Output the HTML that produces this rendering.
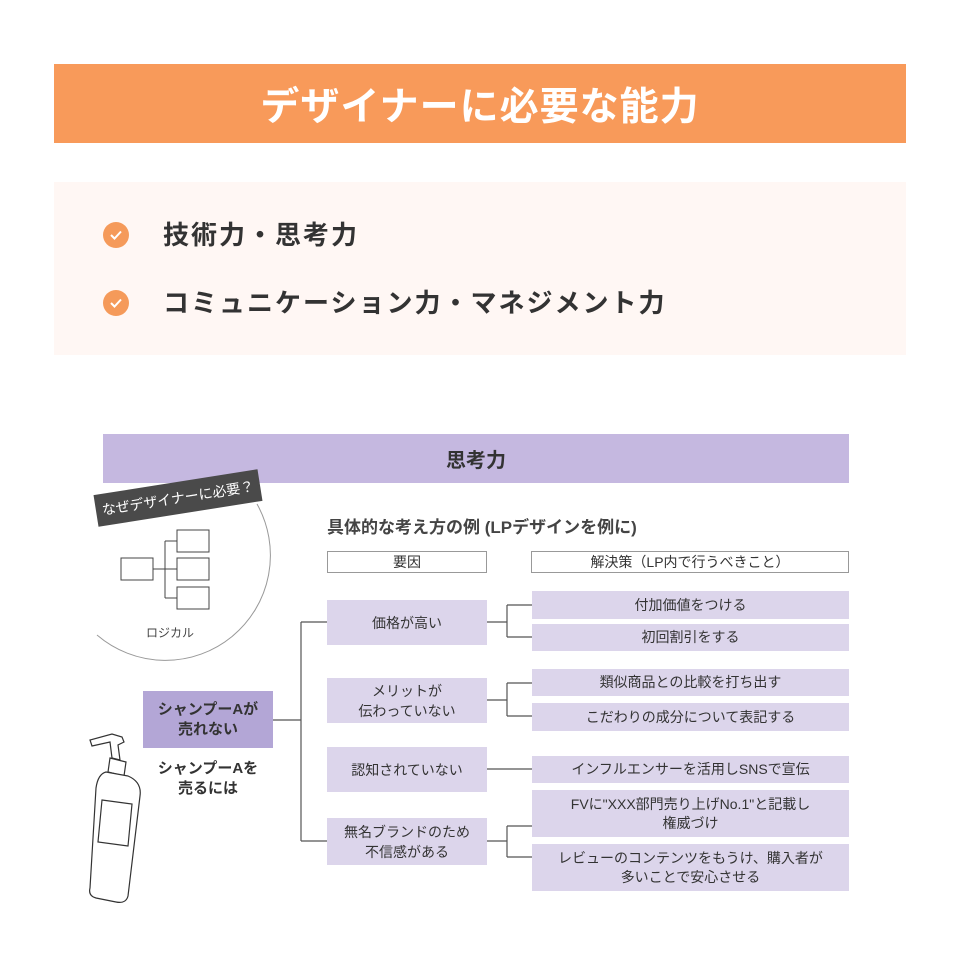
<!DOCTYPE html>
<html><head><meta charset="utf-8"><style>
*{margin:0;padding:0;box-sizing:border-box}
body{width:960px;height:960px;background:#fff;position:relative;overflow:hidden;font-family:"Liberation Sans","Noto Sans CJK JP",sans-serif;color:#333}
.a{position:absolute}
.c{display:flex;align-items:center;justify-content:center;text-align:center}
.cause{background:#dcd5eb;font-size:14px;line-height:20px;color:#333}
.sol{background:#dcd5eb;font-size:14px;line-height:19px;color:#333}
.hd{border:1px solid #999;background:#fff;font-size:14px}
.chk{width:26px;height:26px;border-radius:50%;background:#f59a5a}
</style></head><body>
<div class="a c" style="left:54px;top:64px;width:852px;height:79px;background:#f89a5a;color:#fff;font-size:39px;font-weight:bold;letter-spacing:1px">デザイナーに必要な能力</div>
<div class="a" style="left:54px;top:182px;width:852px;height:173px;background:#fff7f4"></div>
<div class="a chk c" style="left:103px;top:222px"><svg width="12" height="10"><path d="M1 5 L4.5 8.5 L11 1.5" stroke="#fff" stroke-width="2" fill="none"/></svg></div>
<div class="a chk c" style="left:103px;top:290px"><svg width="12" height="10"><path d="M1 5 L4.5 8.5 L11 1.5" stroke="#fff" stroke-width="2" fill="none"/></svg></div>
<div class="a" style="left:163px;top:218px;font-size:26px;font-weight:bold;letter-spacing:2px;line-height:34px">技術力・思考力</div>
<div class="a" style="left:163px;top:286px;font-size:26px;font-weight:bold;letter-spacing:2px;line-height:34px">コミュニケーション力・マネジメント力</div>

<div class="a c" style="left:103px;top:434px;width:746px;height:49px;background:#c5b8e0;font-size:20px;font-weight:bold">思考力</div>

<svg class="a" style="left:0;top:0" width="960" height="960">
<path d="M257 504 A105 105 0 0 1 97 635" fill="none" stroke="#999" stroke-width="1"/>
<g fill="#fff" stroke="#444" stroke-width="1">
<rect x="121" y="558" width="32" height="22"/>
<rect x="177" y="530" width="32" height="22"/>
<rect x="177" y="558" width="32" height="22"/>
<rect x="177" y="587" width="32" height="22"/>
</g>
<path d="M153 569 H177 M165 541 V598 M165 541 H177 M165 598 H177" stroke="#444" fill="none"/>
<g stroke="#555" stroke-width="1.2" fill="none">
<path d="M273 720 H301 M301 622 V841 M301 622 H327 M301 841 H327"/>
<path d="M487 622 H507 M507 605 V637 M507 605 H532 M507 637 H532"/>
<path d="M487 700 H507 M507 683 V716 M507 683 H532 M507 716 H532"/>
<path d="M487 769 H532"/>
<path d="M487 841 H507 M507 826 V857 M507 826 H532 M507 857 H532"/>
</g>
<g stroke="#333" stroke-width="1.2" fill="#fff">
<path d="M112 758 L110 742 L92 746 L90 740 L112 734 L122 737 L124 742 L118 745 L120 760 Z" fill="#fff"/>
<path d="M110 758 L126 762 L124 776 L108 772 Z"/>
<path d="M106 772 L128 776 Q142 782 140 796 L128 896 Q126 904 116 902 L96 898 Q88 896 90 888 L96 788 Q98 774 106 772 Z"/>
<path d="M102 800 L132 804 L128 846 L98 842 Z" fill="none"/>
</g>
</svg>
<div class="a c" style="left:95px;top:482px;width:166px;height:32px;background:#4a4a4a;color:#fff;font-size:14px;transform:rotate(-9deg);transform-origin:center">なぜデザイナーに必要？</div>
<div class="a" style="left:146px;top:624px;font-size:12px;color:#444">ロジカル</div>

<div class="a c" style="left:143px;top:691px;width:130px;height:57px;background:#b3a6d6;font-size:15px;font-weight:bold;line-height:20px">シャンプーAが<br>売れない</div>
<div class="a c" style="left:143px;top:758px;width:130px;height:42px;font-size:15px;font-weight:bold;line-height:20px">シャンプーAを<br>売るには</div>

<div class="a" style="left:327px;top:513px;font-size:17px;font-weight:bold;color:#444">具体的な考え方の例 (LPデザインを例に)</div>
<div class="a c hd" style="left:327px;top:551px;width:160px;height:22px">要因</div>
<div class="a c hd" style="left:531px;top:551px;width:318px;height:22px">解決策（LP内で行うべきこと）</div>

<div class="a c cause" style="left:327px;top:600px;width:160px;height:45px">価格が高い</div>
<div class="a c cause" style="left:327px;top:678px;width:160px;height:45px">メリットが<br>伝わっていない</div>
<div class="a c cause" style="left:327px;top:747px;width:160px;height:45px">認知されていない</div>
<div class="a c cause" style="left:327px;top:818px;width:160px;height:47px">無名ブランドのため<br>不信感がある</div>

<div class="a c sol" style="left:532px;top:591px;width:317px;height:28px">付加価値をつける</div>
<div class="a c sol" style="left:532px;top:624px;width:317px;height:27px">初回割引をする</div>
<div class="a c sol" style="left:532px;top:669px;width:317px;height:27px">類似商品との比較を打ち出す</div>
<div class="a c sol" style="left:532px;top:703px;width:317px;height:28px">こだわりの成分について表記する</div>
<div class="a c sol" style="left:532px;top:756px;width:317px;height:27px">インフルエンサーを活用しSNSで宣伝</div>
<div class="a c sol" style="left:532px;top:790px;width:317px;height:47px">FVに"XXX部門売り上げNo.1"と記載し<br>権威づけ</div>
<div class="a c sol" style="left:532px;top:844px;width:317px;height:47px">レビューのコンテンツをもうけ、購入者が<br>多いことで安心させる</div>
</body></html>
